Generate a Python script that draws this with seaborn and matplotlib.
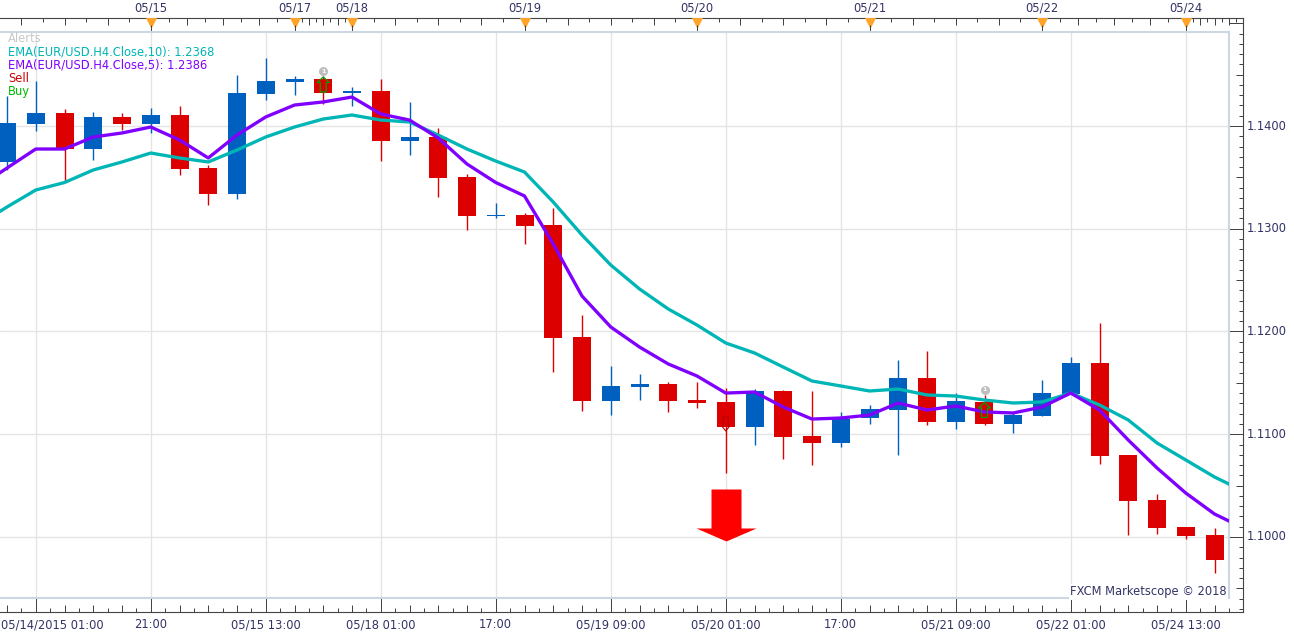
import numpy as np
import pandas as pd
import matplotlib
matplotlib.use("Agg")
import matplotlib.pyplot as plt
from matplotlib.path import Path
import seaborn as sns

# EUR/USD 4-hour candles
opens = [1.13650, 1.14019, 1.14127, 1.13776, 1.14088, 1.14019, 1.14107, 1.13591, 1.13338, 1.14311,
         1.14433, 1.14457, 1.14321, 1.14341, 1.13854, 1.13893, 1.13504, 1.13124, 1.13134, 1.13037,
         1.11946, 1.11324, 1.11460, 1.11489, 1.11333, 1.11314, 1.11071, 1.11421, 1.10983, 1.10915,
         1.11158, 1.11236, 1.11547, 1.11119, 1.11314, 1.11100, 1.11178, 1.11392, 1.11693, 1.10798,
         1.10360, 1.10097, 1.10020]
highs = [1.14292, 1.14438, 1.14165, 1.14136, 1.14127, 1.14175, 1.14195, 1.13620, 1.14496, 1.14662,
         1.14487, 1.14487, 1.14380, 1.14457, 1.14234, 1.13981, 1.13533, 1.13251, 1.13153, 1.13202,
         1.12161, 1.11664, 1.11587, 1.11509, 1.11509, 1.11450, 1.11440, 1.11430, 1.11421, 1.11217,
         1.11285, 1.11723, 1.11810, 1.11401, 1.11382, 1.11217, 1.11528, 1.11752, 1.12083, 1.10798,
         1.10418, 1.10097, 1.10088]
lows = [1.13572, 1.13951, 1.13465, 1.13669, 1.13961, 1.13932, 1.13523, 1.13231, 1.13290, 1.14253,
        1.14302, 1.14214, 1.14195, 1.13659, 1.13718, 1.13309, 1.12988, 1.13105, 1.12852, 1.11606,
        1.11226, 1.11187, 1.11333, 1.11217, 1.11256, 1.10623, 1.10895, 1.10759, 1.10701, 1.10876,
        1.11100, 1.10798, 1.11090, 1.11051, 1.11090, 1.11012, 1.11178, 1.11392, 1.10710, 1.10020,
        1.10029, 1.09981, 1.09650]
closes = [1.14029, 1.14127, 1.13776, 1.14088, 1.14019, 1.14107, 1.13582, 1.13338, 1.14321, 1.14438,
          1.14462, 1.14321, 1.14341, 1.13854, 1.13893, 1.13494, 1.13124, 1.13134, 1.13027, 1.11937,
          1.11324, 1.11470, 1.11489, 1.11324, 1.11304, 1.11071, 1.11421, 1.10973, 1.10915, 1.11148,
          1.11246, 1.11547, 1.11119, 1.11324, 1.11100, 1.11187, 1.11401, 1.11693, 1.10788, 1.10350,
          1.10088, 1.10010, 1.09776]

# Moving averages, running one candle past each edge of the window
ema_candles = list(range(-1, 44))
ema5 = [1.13406, 1.13591, 1.13776, 1.13776, 1.13893, 1.13932, 1.13990, 1.13864, 1.13689, 1.13912,
        1.14088, 1.14204, 1.14234, 1.14282, 1.14117, 1.14058, 1.13883, 1.13630, 1.13450, 1.13319,
        1.12852, 1.12345, 1.12044, 1.11849, 1.11684, 1.11567, 1.11401, 1.11411, 1.11265, 1.11148,
        1.11158, 1.11187, 1.11304, 1.11236, 1.11275, 1.11217, 1.11207, 1.11265, 1.11401, 1.11236,
        1.10944, 1.10672, 1.10428, 1.10224, 1.10088]
ema10 = [1.13037, 1.13212, 1.13377, 1.13450, 1.13572, 1.13650, 1.13737, 1.13689, 1.13650, 1.13766,
         1.13893, 1.13990, 1.14068, 1.14107, 1.14058, 1.14039, 1.13912, 1.13776, 1.13659, 1.13552,
         1.13260, 1.12939, 1.12647, 1.12414, 1.12219, 1.12063, 1.11888, 1.11791, 1.11654, 1.11518,
         1.11470, 1.11421, 1.11440, 1.11382, 1.11372, 1.11333, 1.11304, 1.11314, 1.11401, 1.11285,
         1.11139, 1.10915, 1.10750, 1.10584, 1.10448]

# Time axes
bottom_candles = [1, 5, 9, 13, 17, 21, 25, 29, 33, 37, 41]
bottom_labels = ["05/14/2015 01:00", "21:00", "05/15 13:00", "05/18 01:00", "17:00", "05/19 09:00",
                 "05/20 01:00", "17:00", "05/21 09:00", "05/22 01:00", "05/24 13:00"]
day_candles = [5, 10, 12, 18, 24, 30, 36, 41]
day_labels = ["05/15", "05/17", "05/18", "05/19", "05/20", "05/21", "05/22", "05/24"]
day_edges = [-1, 5, 10, 12, 18, 24, 30, 36, 41, 43]
price_ticks = [1.10, 1.11, 1.12, 1.13, 1.14]

# Signals
sell_candle, sell_price = 25, 1.10214
sell_small_price = 1.11100
buy_candles, buy_prices = [11, 34], [1.14404, 1.11236]
alert_prices = [1.14535, 1.11431]

legend_labels = ["Alerts", "EMA(EUR/USD.H4.Close,10): 1.2368", "EMA(EUR/USD.H4.Close,5): 1.2386", "Sell", "Buy"]
legend_colors = ["#C8C8C8", "#00B5B5", "#8000FF", "#CC0000", "#00BB00"]

RED, BLUE = "#DD0000", "#0060C0"
TEAL, PURPLE = "#00B5B5", "#8000FF"
INK, AXIS = "#333366", "#444444"
GRID, FRAME = "#E4E4E4", "#CDD6E3"
ORANGE = "#FFA428"

W, H = 1294, 637
PX = 72 / 100  # points per pixel
STEP = 28.75   # pixels per candle
X0 = 7         # pixel of candle 0
Y114, SCALE = 126, 10275  # pixel of 1.14 and pixels per price unit


def cand(px):
    return (px - X0) / STEP


def price(py):
    return 1.14 - (py - Y114) / SCALE


def box(left, top, right, bottom):
    return [left / W, 1 - bottom / H, (right - left) / W, (bottom - top) / H]


sns.set_theme(style="white")
plt.rcParams["font.family"] = ["DejaVu Sans"]
FS = 8.3

fig = plt.figure(figsize=(W / 100, H / 100), dpi=100, facecolor="white")

# Outer axes hold the rulers and their labels
outer = fig.add_axes(box(0, 18, 1243, 612), zorder=0)
outer.set_xlim(cand(0), cand(1243))
outer.set_ylim(price(612), price(18))
outer.set_xticks([])
outer.set_yticks([])
for side in ["top", "right", "bottom"]:
    outer.spines[side].set_color(AXIS)
    outer.spines[side].set_linewidth(0.8)
outer.spines["left"].set_visible(False)

oh, ow = 612 - 18, 1243
xt = outer.get_xaxis_transform()
yt = outer.get_yaxis_transform()
TICK = dict(color=AXIS, linewidth=0.72)

# Bottom ruler: a tick each half candle, longer each candle, full height each four
half_steps = np.arange(-0.5, 43.01, 0.5)
for c in half_steps:
    if c in bottom_candles:
        length = 14
    elif float(c).is_integer():
        length = 7
    else:
        length = 4
    outer.vlines(c, 0, length / oh, transform=xt, **TICK)

# Top ruler: each day span is split into eight parts
for start, end in zip(day_edges[:-1], day_edges[1:]):
    for j, c in enumerate(np.linspace(start, end, 9)[:-1]):
        if j == 0:
            continue
        length = 7 if j % 2 == 0 else 4
        if cand(0) < c < cand(1243):
            outer.vlines(c, 1 - length / oh, 1, transform=xt, **TICK)
outer.scatter(day_candles, [1 - 5 / oh] * len(day_candles), marker="v", s=62, color=ORANGE,
              linewidths=0, transform=xt, zorder=3, clip_on=False)
outer.vlines(day_candles, 1 - 13 / oh, 1 - 7 / oh, transform=xt, zorder=4, **TICK)

# Right ruler: one tick per 10 pips, longer each 50, full length each 100
for k in range(1093, 1151):
    if k % 10 == 0:
        length = 14
    elif k % 5 == 0:
        length = 7
    else:
        length = 4
    outer.hlines(k / 1000, 1 - length / ow, 1, transform=yt, **TICK)

for c, label in zip(day_candles, day_labels):
    outer.text(c, 1 + 10 / oh, label, transform=xt, ha="center", va="center", color=INK, fontsize=FS, clip_on=False)
for c, label in zip(bottom_candles, bottom_labels):
    if c == bottom_candles[0]:
        outer.text(1 / ow, -13 / oh, label, transform=outer.transAxes, ha="left", va="center",
                   color=INK, fontsize=FS, clip_on=False)
    else:
        outer.text(c, -13 / oh, label, transform=xt, ha="center", va="center", color=INK, fontsize=FS, clip_on=False)
for p in price_ticks:
    outer.text(1 + 4 / ow, p, f"{p:.4f}", transform=yt, ha="left", va="center", color=INK, fontsize=FS, clip_on=False)

# Price panel
ax = fig.add_axes(box(0, 32, 1228.5, 598), zorder=1)
ax.set_facecolor("white")

ema_table = pd.DataFrame({"candle": ema_candles, "ema5": ema5, "ema10": ema10})
candles = pd.DataFrame({"open": opens, "high": highs, "low": lows, "close": closes})
candles["candle"] = candles.index
candles["up"] = candles["close"] > candles["open"]
colors = np.where(candles["up"], BLUE, RED)

ax.vlines(candles["candle"], candles["low"], candles["high"], colors=colors, linewidth=1.0, zorder=2)
ax.bar(candles["candle"], (candles["close"] - candles["open"]).abs(),
       bottom=candles[["open", "close"]].min(axis=1), width=18 / STEP, color=colors, linewidth=0, zorder=3)

sns.lineplot(data=ema_table, x="candle", y="ema10", ax=ax, color=TEAL, linewidth=3.3 * PX, zorder=4)
sns.lineplot(data=ema_table, x="candle", y="ema5", ax=ax, color=PURPLE, linewidth=3.3 * PX, zorder=5)

ax.set_xlim(cand(0), cand(1228.5))
ax.set_ylim(price(598), price(32))
ax.set_xlabel("")
ax.set_ylabel("")
ax.set_xticks(bottom_candles)
ax.set_yticks(price_ticks)
ax.tick_params(left=False, bottom=False, labelleft=False, labelbottom=False)
ax.grid(True, color=GRID, linewidth=0.95, zorder=0)
ax.set_axisbelow(True)
ax.spines["left"].set_visible(False)
for side in ["top", "right", "bottom"]:
    ax.spines[side].set_color(FRAME)
    ax.spines[side].set_linewidth(1.5)

# Signal markers; outlines are given in pixels around the anchor price
big_arrow = Path([(-15, 26), (15, 26), (15, -13), (30, -13), (0, -26), (-30, -13), (-15, -13), (-15, 26)], closed=True)
ax.scatter([sell_candle], [sell_price], marker=big_arrow, s=(60 * PX) ** 2, color="#FF0000", linewidths=0, zorder=7)

up_arrow = Path([(0, 7.5), (6, 2), (3, 2), (3, -7.5), (-3, -7.5), (-3, 2), (-6, 2), (0, 7.5)], closed=True)
ax.scatter(buy_candles, buy_prices, marker=up_arrow, s=(15 * PX) ** 2, facecolors="none",
           edgecolors="#00A000", linewidths=0.9, zorder=6)
down_arrow = Path([(0, -7), (4, -2), (2.5, -2), (2.5, 7), (-2.5, 7), (-2.5, -2), (-4, -2), (0, -7)], closed=True)
ax.scatter([sell_candle], [sell_small_price], marker=down_arrow, s=(14 * PX) ** 2, facecolors="none",
           edgecolors="#BB0000", linewidths=0.8, zorder=6)

ax.scatter(buy_candles, alert_prices, s=(9 * PX) ** 2, color="#BEBEBE", linewidths=0, zorder=6)
for c, p in zip(buy_candles, alert_prices):
    ax.text(c, p, "1", color="white", fontsize=4.5, ha="center", va="center", fontweight="bold", zorder=7)

# Legend lines in the upper left corner
for i, (label, color) in enumerate(zip(legend_labels, legend_colors)):
    fig.text(8 / W, 1 - (39 + 13 * i) / H, label, color=color, fontsize=FS, ha="left", va="center", zorder=8)

fig.text(1227 / W, 1 - 592 / H, "FXCM Marketscope \u00a9 2018", color=INK, fontsize=FS, ha="right", va="center",
         zorder=8, bbox=dict(facecolor="white", edgecolor="none", pad=1.0))

fig.savefig("out.png", dpi=100, facecolor="white")
